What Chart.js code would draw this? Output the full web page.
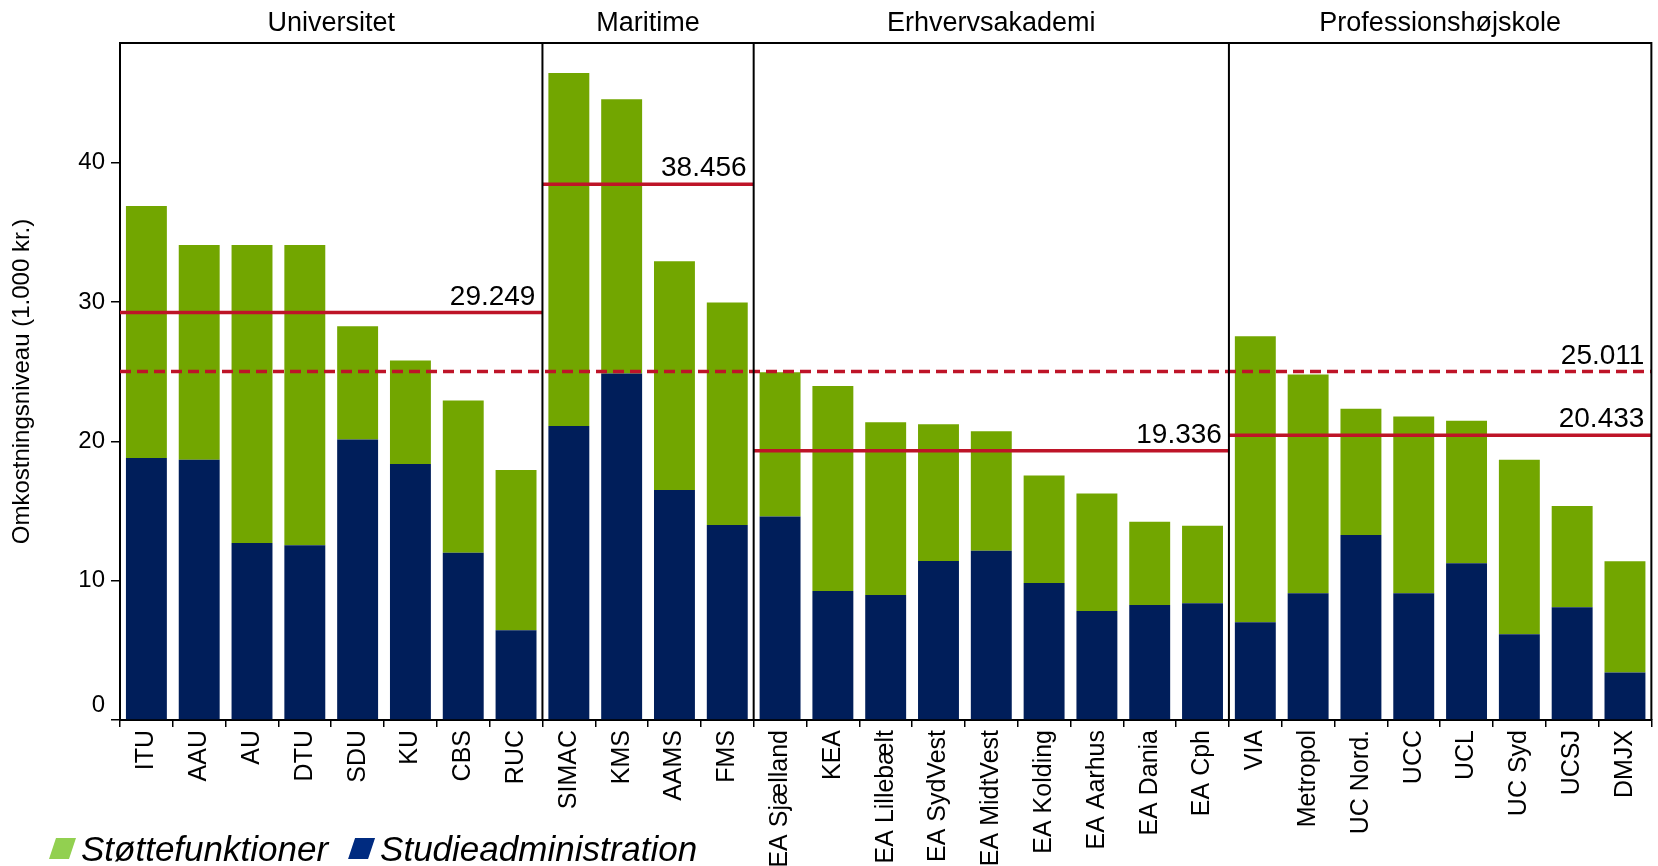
<!DOCTYPE html>
<html><head><meta charset="utf-8">
<script src="https://cdn.jsdelivr.net/npm/chart.js@4.4.0/dist/chart.umd.min.js"></script>
<style>html,body{margin:0;padding:0;background:#fff;}#wrap{width:1658px;height:866px;}</style>
</head><body><div id="wrap"><canvas id="c" width="1658" height="866"></canvas></div>
<script>
const categories = ['ITU','AAU','AU','DTU','SDU','KU','CBS','RUC','SIMAC','KMS','AAMS','FMS','EA Sjælland','KEA','EA Lillebælt','EA SydVest','EA MidtVest','EA Kolding','EA Aarhus','EA Dania','EA Cph','VIA','Metropol','UC Nord.','UCC','UCL','UC Syd','UCSJ','DMJX'];
const groupNames = ['Universitet','Maritime','Erhvervsakademi','Professionshøjskole'];
const groupSizes = [8,4,9,8];
const groupAverages = [29.249, 38.456, 19.336, 20.433];
const overallAverage = 25.011;
const studieadministration = [18.81,18.69,12.70,12.55,20.13,18.38,12.00,6.44, 21.11,24.87,16.52,13.99, 14.60,9.26,8.97,11.42,12.15,9.84,7.82,8.25,8.39, 7.01,9.10,13.28,9.10,11.26,6.15,8.09,3.41];
const stottefunktioner = [18.09,15.40,21.39,21.54,8.13,7.43,10.93,11.51, 25.33,19.69,16.42,15.99, 10.36,14.72,12.41,9.82,8.58,7.72,8.44,5.99,5.56, 20.53,15.70,9.07,12.68,10.23,12.53,7.28,7.99];
const yTicks = [0,10,20,30,40];
const yMax = 48.6;
const seriesNames = ['Støttefunktioner','Studieadministration'];

const FONT = '"Liberation Sans", Arial, sans-serif';
const GREEN = '#72A600', BLUE = '#001E5A', RED = '#BE1428';
const LEGEND_GREEN = '#92D050', LEGEND_BLUE = '#002B80';

const datasets = [
  {type:'bar', label:seriesNames[1], data:studieadministration, backgroundColor:BLUE, xAxisID:'x', yAxisID:'y', stack:'s', grouped:false, categoryPercentage:1, barPercentage:0.775},
  {type:'bar', label:seriesNames[0], data:stottefunktioner, backgroundColor:GREEN, xAxisID:'x', yAxisID:'y', stack:'s', grouped:false, categoryPercentage:1, barPercentage:0.775}
];
let s0 = 0;
groupSizes.forEach((n,g)=>{
  datasets.push({type:'line', label:'avg'+g, data:[{x:s0-0.5,y:groupAverages[g]},{x:s0+n-0.5,y:groupAverages[g]}],
    xAxisID:'xl', yAxisID:'yl', stack:'l'+g, borderColor:RED, borderWidth:3.5, pointRadius:0, fill:false, order:-1});
  s0 += n;
});
datasets.push({type:'line', label:'overall', data:[{x:-0.5,y:overallAverage},{x:categories.length-0.5,y:overallAverage}],
  xAxisID:'xl', yAxisID:'yl', stack:'lo', borderColor:RED, borderWidth:3.5, borderDash:[11,6], pointRadius:0, fill:false, order:-1});

const decor = {
  id:'decor',
  afterDatasetsDraw(chart){
    const ctx = chart.ctx, ca = chart.chartArea, xl = chart.scales.xl, yl = chart.scales.yl;
    ctx.save();
    ctx.strokeStyle = '#000'; ctx.lineWidth = 2;
    ctx.beginPath();
    ctx.moveTo(ca.left, ca.top); ctx.lineTo(ca.right, ca.top); ctx.lineTo(ca.right, ca.bottom);
    let st = 0;
    groupSizes.forEach((n,g)=>{
      st += n;
      if (g < groupSizes.length-1){ const x = xl.getPixelForValue(st-0.5); ctx.moveTo(x, ca.top); ctx.lineTo(x, ca.bottom); }
    });
    ctx.stroke();
    ctx.fillStyle = '#000';
    st = 0;
    groupSizes.forEach((n,g)=>{
      ctx.font = '27px ' + FONT; ctx.textAlign = 'center'; ctx.textBaseline = 'alphabetic';
      ctx.fillText(groupNames[g], xl.getPixelForValue(st + (n-1)/2), 31);
      ctx.font = '28px ' + FONT; ctx.textAlign = 'right';
      ctx.fillText(groupAverages[g].toFixed(3), xl.getPixelForValue(st+n-0.5) - 7, yl.getPixelForValue(groupAverages[g]) - 8);
      st += n;
    });
    ctx.fillText(overallAverage.toFixed(3), xl.getPixelForValue(categories.length-0.5) - 7, yl.getPixelForValue(overallAverage) - 8);
    ctx.restore();
  },
  afterDraw(chart){
    const ctx = chart.ctx;
    ctx.save();
    ctx.font = 'italic 35px ' + FONT; ctx.textBaseline = 'alphabetic'; ctx.textAlign = 'left';
    const items = [[seriesNames[0], LEGEND_GREEN],[seriesNames[1], LEGEND_BLUE]];
    let x = 49;
    items.forEach(([lab,col])=>{
      ctx.fillStyle = col;
      ctx.beginPath();
      ctx.moveTo(x+7, 838); ctx.lineTo(x+27, 838); ctx.lineTo(x+20, 859); ctx.lineTo(x, 859); ctx.closePath(); ctx.fill();
      ctx.fillStyle = '#000';
      ctx.fillText(lab, x+32, 861);
      x += 32 + ctx.measureText(lab).width + 20;
    });
    ctx.restore();
  }
};

new Chart(document.getElementById('c'), {
  type:'bar',
  data:{labels:categories, datasets},
  options:{
    responsive:false, animation:false, devicePixelRatio:1,
    layout:{padding:{top:43, right:2, left:0, bottom:0}},
    datasets:{bar:{categoryPercentage:1, barPercentage:0.775, grouped:false}},
    plugins:{legend:{display:false}, tooltip:{enabled:false}},
    scales:{
      x:{type:'category', stacked:true, offset:true,
        grid:{offset:true, drawOnChartArea:false, drawTicks:true, tickLength:7, color:'#000', lineWidth:1.5},
        border:{color:'#000', width:2},
        ticks:{maxRotation:90, minRotation:90, autoSkip:false, padding:3, color:'#000', font:{size:25, family:FONT}},
        afterFit:s=>{s.height=146;}},
      xl:{type:'linear', display:false, offset:false, grid:{offset:false}, bounds:'data', grace:0, beginAtZero:false,
        min:-0.5, max:categories.length-0.5,
        afterDataLimits:s=>{s.min=-0.5; s.max=categories.length-0.5;}},
      y:{stacked:true, min:0, max:yMax,
        afterBuildTicks:s=>{s.ticks = yTicks.map(v=>({value:v}));},
        grid:{drawOnChartArea:false, tickLength:9, color:'#000', lineWidth:1.5},
        border:{color:'#000', width:2},
        ticks:{padding:6, color:'#000', font:{size:24, family:FONT},
          callback:v=> v === 0 ? ['0',''] : String(v)},
        title:{display:true, text:'Omkostningsniveau (1.000 kr.)', color:'#000', font:{size:24, family:FONT}, padding:{top:8, bottom:0}},
        afterFit:s=>{s.width=120;}},
      yl:{display:false, min:0, max:yMax}
    }
  },
  plugins:[decor]
});
</script></body></html>
